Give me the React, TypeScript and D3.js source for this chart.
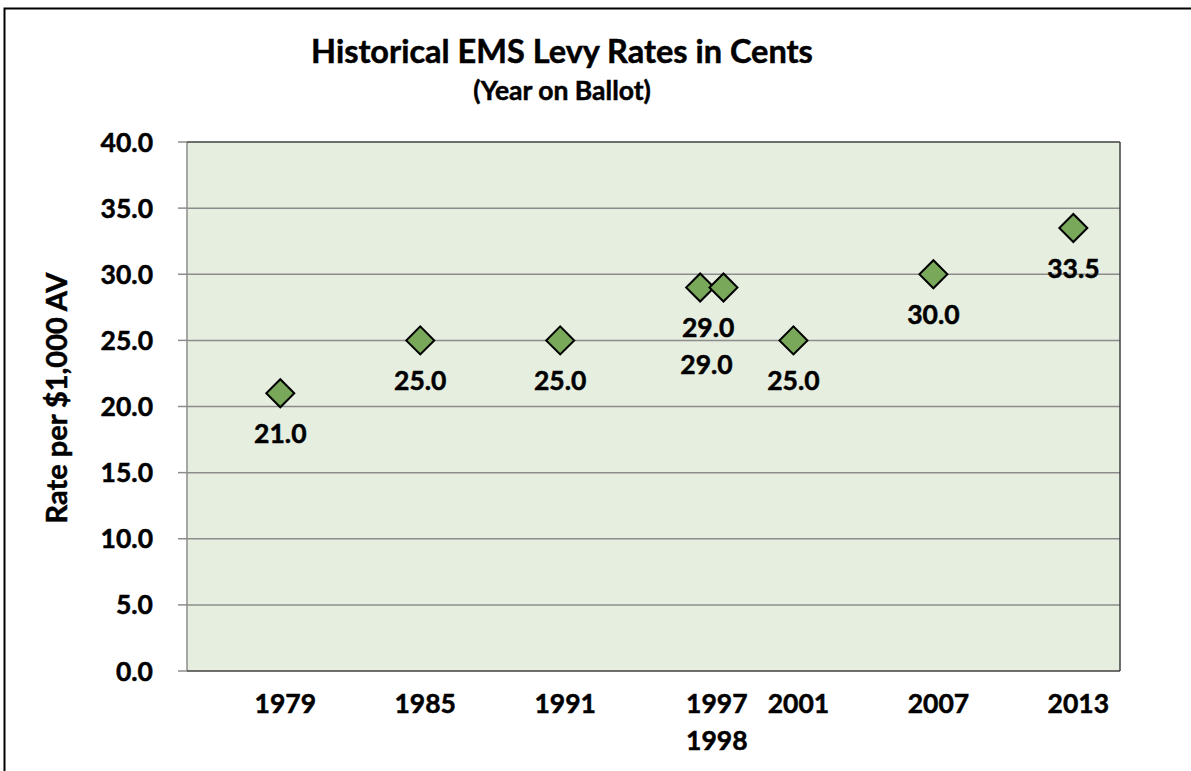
import React from "react";
import * as d3 from "d3";

// ballot years and levy rates (cents per $1,000 AV)
const years = [1979, 1985, 1991, 1997, 1998, 2001, 2007, 2013];
const rates = [21.0, 25.0, 25.0, 29.0, 29.0, 25.0, 30.0, 33.5];

// x axis labels (1997 and 1998 share one stacked label)
const xLabelText = [["1979"], ["1985"], ["1991"], ["1997", "1998"], ["2001"], ["2007"], ["2013"]];
const xLabelYear = [1979, 1985, 1991, 1997.5, 2001, 2007, 2013];

const yTickValues = [0, 5, 10, 15, 20, 25, 30, 35, 40];

const W = 1191;
const H = 771;
const plot = { left: 187, right: 1120, top: 142, bottom: 671 };
const font = "Lato, 'Open Sans', sans-serif";
const numSize = 26.5;

// data labels that were dragged away from their default spot
const labelNudge: Record<number, [number, number]> = { 3: [8, 0], 4: [-17, 37] };

export default function App() {
  const x = d3.scaleLinear().domain([1975, 2015]).range([plot.left, plot.right]);
  const y = d3.scaleLinear().domain([0, 40]).range([plot.bottom, plot.top]);
  const diamond = d3.symbol().type(d3.symbolSquare).size(392)();

  return (
    <svg width={W} height={H} style={{ position: "absolute", left: 0, top: 0, background: "#fff" }}
      fontFamily={font} fontWeight={700}>
      <rect x={4.5} y={8.5} width={W + 20} height={H + 20} fill="#fff" stroke="#000" strokeWidth={2} />

      <g stroke="#000" strokeWidth={0.5}>
        <text x={562} y={63} textAnchor="middle" fontSize={32.5}>Historical EMS Levy Rates in Cents</text>
        <text x={562} y={100} textAnchor="middle" fontSize={26.5}>(Year on Ballot)</text>
      </g>

      <rect x={plot.left} y={plot.top} width={plot.right - plot.left} height={plot.bottom - plot.top} fill="#e6eedf" />

      {yTickValues.map((t) => (
        <g key={t}>
          {t > 0 && t < 40 && (
            <line x1={plot.left} x2={plot.right} y1={y(t)} y2={y(t)} stroke="#8c8c8c" strokeWidth={1.5} />
          )}
          <line x1={plot.left - 9} x2={plot.left} y1={y(t)} y2={y(t)} stroke="#8c8c8c" strokeWidth={1.5} />
          <text x={153} y={y(t)} dy="0.36em" textAnchor="end" fontSize={numSize} stroke="#000" strokeWidth={0.5}>
            {t.toFixed(1)}
          </text>
        </g>
      ))}

      <line x1={plot.left} x2={plot.left} y1={plot.top} y2={plot.bottom} stroke="#8c8c8c" strokeWidth={1.5} />
      <line x1={plot.left} x2={plot.right} y1={plot.top} y2={plot.top} stroke="#404040" strokeWidth={1.5} />
      <line x1={plot.right} x2={plot.right} y1={plot.top} y2={plot.bottom} stroke="#404040" strokeWidth={1.5} />
      <line x1={plot.left} x2={plot.right} y1={plot.bottom} y2={plot.bottom} stroke="#404040" strokeWidth={1.5} />

      <text transform="translate(67, 398) rotate(-90)" textAnchor="middle" fontSize={29}
        stroke="#000" strokeWidth={0.5}>
        Rate per $1,000 AV
      </text>

      {xLabelText.map((lines, i) => (
        <text key={i} x={x(xLabelYear[i]) + 5} y={713} textAnchor="middle" fontSize={numSize}
          stroke="#000" strokeWidth={0.5}>
          {lines.map((l, j) => (
            <tspan key={j} x={x(xLabelYear[i]) + 5} dy={j === 0 ? 0 : 37}>{l}</tspan>
          ))}
        </text>
      ))}

      {years.map((yr, i) => (
        <path key={yr} d={diamond!} transform={`translate(${x(yr)}, ${y(rates[i])}) rotate(45)`}
          fill="#79a85a" stroke="#000" strokeWidth={2} />
      ))}

      {years.map((yr, i) => {
        const [dx, dy] = labelNudge[i] || [0, 0];
        return (
          <text key={yr} x={x(yr) + dx} y={y(rates[i]) + 40 + dy} dy="0.36em" textAnchor="middle"
            fontSize={numSize} stroke="#000" strokeWidth={0.5}>
            {rates[i].toFixed(1)}
          </text>
        );
      })}
    </svg>
  );
}
